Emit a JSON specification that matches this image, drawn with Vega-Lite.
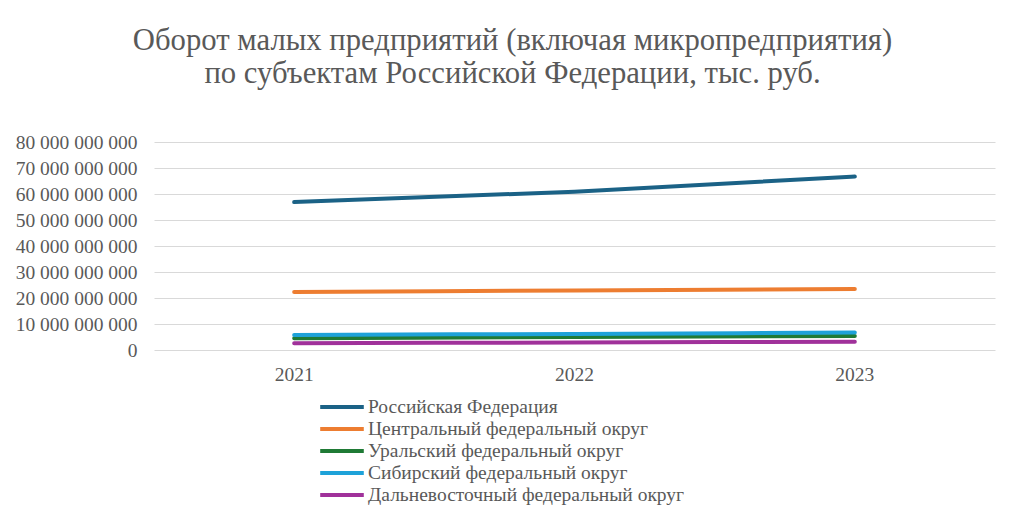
{
  "$schema": "https://vega.github.io/schema/vega-lite/v6.json",
  "autosize": {"type": "none"},
  "width": 841,
  "height": 208,
  "padding": {"left": 154, "top": 142, "right": 29, "bottom": 172},
  "background": "white",
  "title": {
    "text": ["Оборот малых предприятий (включая микропредприятия)", "по субъектам Российской Федерации, тыс. руб."],
    "font": "Liberation Serif",
    "fontSize": 30.7,
    "fontWeight": "normal",
    "color": "#595959",
    "anchor": "middle",
    "dx": -62,
    "offset": 42,
    "lineHeight": 33
  },
  "data": {
    "values": [
      {"year": "2021", "region": "Российская Федерация", "value": 56900000000},
      {"year": "2022", "region": "Российская Федерация", "value": 60900000000},
      {"year": "2023", "region": "Российская Федерация", "value": 66700000000},
      {"year": "2021", "region": "Центральный федеральный округ", "value": 22300000000},
      {"year": "2022", "region": "Центральный федеральный округ", "value": 22900000000},
      {"year": "2023", "region": "Центральный федеральный округ", "value": 23500000000},
      {"year": "2021", "region": "Уральский федеральный округ", "value": 4500000000},
      {"year": "2022", "region": "Уральский федеральный округ", "value": 5000000000},
      {"year": "2023", "region": "Уральский федеральный округ", "value": 5400000000},
      {"year": "2021", "region": "Сибирский федеральный округ", "value": 5800000000},
      {"year": "2022", "region": "Сибирский федеральный округ", "value": 6200000000},
      {"year": "2023", "region": "Сибирский федеральный округ", "value": 6700000000},
      {"year": "2021", "region": "Дальневосточный федеральный округ", "value": 2600000000},
      {"year": "2022", "region": "Дальневосточный федеральный округ", "value": 2900000000},
      {"year": "2023", "region": "Дальневосточный федеральный округ", "value": 3200000000}
    ]
  },
  "mark": {"type": "line", "strokeWidth": 4, "strokeCap": "round", "strokeJoin": "round", "interpolate": "monotone"},
  "encoding": {
    "x": {
      "field": "year", "type": "ordinal",
      "scale": {"type": "band", "paddingInner": 0, "paddingOuter": 0},
      "axis": {"title": null, "labelAngle": 0, "ticks": false, "domain": false, "labelFont": "Liberation Serif", "labelFontSize": 19.5, "labelColor": "#595959", "labelPadding": 15}
    },
    "y": {
      "field": "value", "type": "quantitative",
      "scale": {"domain": [0, 80000000000], "nice": false},
      "axis": {"title": null, "values": [0, 10000000000, 20000000000, 30000000000, 40000000000, 50000000000, 60000000000, 70000000000, 80000000000], "labelExpr": "replace(format(datum.value, ',.0f'), /,/g, ' ')", "ticks": false, "domain": false, "gridColor": "#d9d9d9", "gridWidth": 1, "labelFont": "Liberation Serif", "labelFontSize": 19.5, "labelColor": "#595959", "labelPadding": 17}
    },
    "color": {
      "field": "region", "type": "nominal",
      "scale": {
        "domain": ["Российская Федерация", "Центральный федеральный округ", "Уральский федеральный округ", "Сибирский федеральный округ", "Дальневосточный федеральный округ"],
        "range": ["#1b6286", "#ed7d31", "#1f7a35", "#1ea2d9", "#a0319a"]
      },
      "legend": {
        "title": null, "orient": "none", "legendX": 164, "legendY": 254,
        "symbolType": "stroke", "symbolSize": 1900, "symbolStrokeWidth": 4,
        "clipHeight": 22, "rowPadding": 0,
        "labelFont": "Liberation Serif", "labelFontSize": 19.5, "labelColor": "#595959",
        "labelOffset": 2, "labelLimit": 400
      }
    }
  },
  "config": {"view": {"stroke": null}}
}
